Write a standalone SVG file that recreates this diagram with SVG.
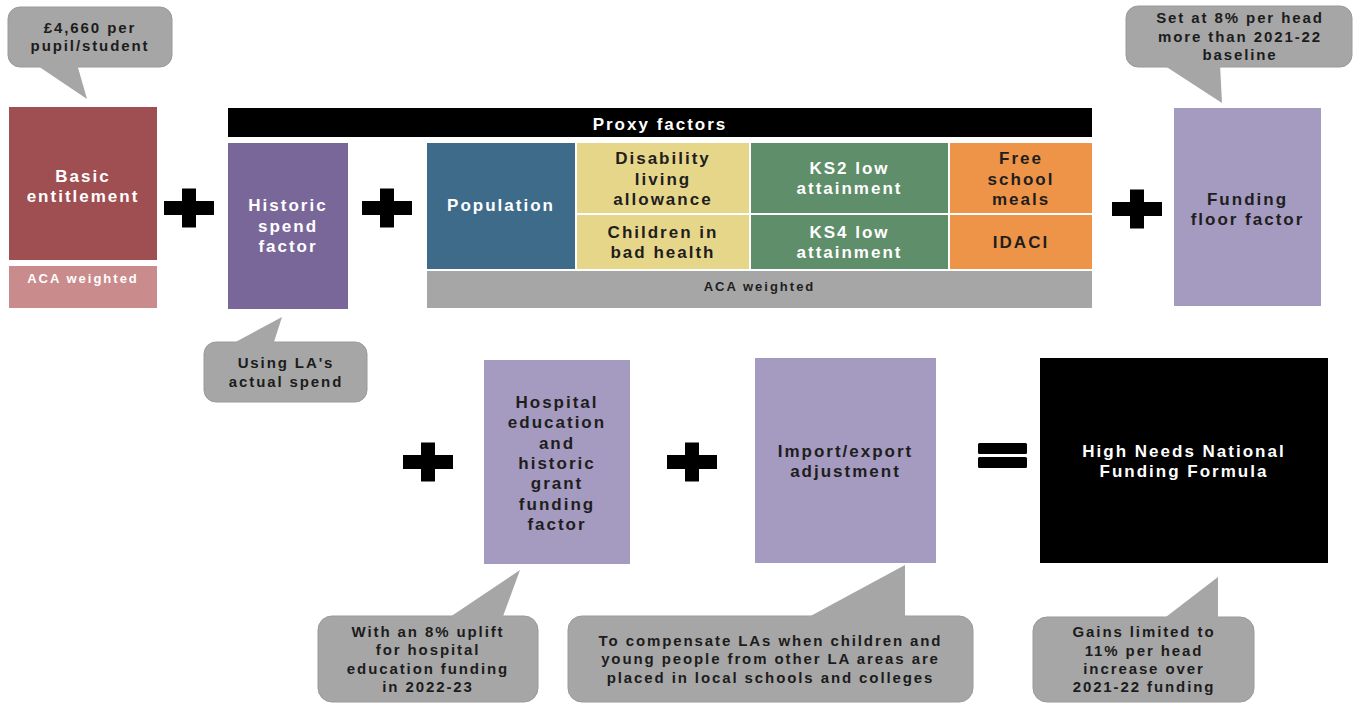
<svg xmlns="http://www.w3.org/2000/svg" xmlns:xlink="http://www.w3.org/1999/xlink" width="1359" height="703" viewBox="0 0 1359 703">
<defs>
<style>
text{font-family:"Liberation Sans",Arial,sans-serif;font-weight:bold;text-anchor:middle}
.n{font-size:17px;letter-spacing:2px}
.s{font-size:13px;letter-spacing:2px}
.c{font-size:15px;letter-spacing:1.9px;fill:#1c1c1c}
.w{fill:#ffffff}
.d{fill:#1e1e1e}
.bub{fill:#a6a6a6;stroke:#9a9a9a;stroke-width:1}
.tail{fill:#a6a6a6}
.op{fill:#000000}
</style>
<path id="plus" d="M-25,-7H-7V-19.5H7V-7H25V7H7V19.5H-7V7H-25Z"/>
</defs>
<rect width="1359" height="703" fill="#ffffff"/>

<g id="operators" class="op">
<use xlink:href="#plus" x="189" y="208"/>
<use xlink:href="#plus" x="387" y="208"/>
<use xlink:href="#plus" x="1137" y="209"/>
<use xlink:href="#plus" x="428" y="462"/>
<use xlink:href="#plus" x="692" y="462"/>
<rect x="978" y="443" width="49" height="11" rx="1.5"/>
<rect x="978" y="457" width="49" height="11" rx="1.5"/>
</g>

<g id="basic-entitlement">
<rect x="9" y="107" width="148" height="153" fill="#9f4f52"/>
<text class="n w" x="83" y="182">Basic</text>
<text class="n w" x="83" y="202">entitlement</text>
</g>
<g id="basic-aca">
<rect x="9" y="266" width="148" height="42" fill="#c98b8c"/>
<text class="s w" x="83" y="283">ACA weighted</text>
</g>

<g id="proxy-factors">
<rect x="228" y="108" width="864" height="29" fill="#000000"/>
<text class="n w" x="660" y="130">Proxy factors</text>
</g>

<g id="historic-spend">
<rect x="228" y="143" width="120" height="166" fill="#7a6799"/>
<text class="n w" x="288" y="211">Historic</text>
<text class="n w" x="288" y="232">spend</text>
<text class="n w" x="288" y="252">factor</text>
</g>

<g id="population">
<rect x="427" y="143" width="148" height="126" fill="#3f6b8b"/>
<text class="n w" x="501" y="211">Population</text>
</g>
<g id="disability">
<rect x="577" y="143" width="172" height="70" fill="#e6d689"/>
<text class="n d" x="663" y="164">Disability</text>
<text class="n d" x="663" y="185">living</text>
<text class="n d" x="663" y="205">allowance</text>
</g>
<g id="bad-health">
<rect x="577" y="215" width="172" height="54" fill="#e6d689"/>
<text class="n d" x="663" y="238">Children in</text>
<text class="n d" x="663" y="258">bad health</text>
</g>
<g id="ks2">
<rect x="751" y="143" width="197" height="70" fill="#5f8e6b"/>
<text class="n w" x="849.5" y="174">KS2 low</text>
<text class="n w" x="849.5" y="194">attainment</text>
</g>
<g id="ks4">
<rect x="751" y="215" width="197" height="54" fill="#5f8e6b"/>
<text class="n w" x="849.5" y="238">KS4 low</text>
<text class="n w" x="849.5" y="258">attainment</text>
</g>
<g id="fsm">
<rect x="950" y="143" width="142" height="70" fill="#ee9449"/>
<text class="n d" x="1021" y="164">Free</text>
<text class="n d" x="1021" y="185">school</text>
<text class="n d" x="1021" y="205">meals</text>
</g>
<g id="idaci">
<rect x="950" y="215" width="142" height="54" fill="#ee9449"/>
<text class="n d" x="1021" y="248">IDACI</text>
</g>
<g id="proxy-aca">
<rect x="427" y="271" width="665" height="37" fill="#a6a6a6"/>
<text class="s d" x="759.5" y="291">ACA weighted</text>
</g>

<g id="funding-floor">
<rect x="1174" y="108" width="147" height="198" fill="#a59abf"/>
<text class="n d" x="1247.5" y="205">Funding</text>
<text class="n d" x="1247.5" y="225">floor factor</text>
</g>

<g id="hospital">
<rect x="484" y="360" width="146" height="204" fill="#a59abf"/>
<text class="n d" x="557" y="408">Hospital</text>
<text class="n d" x="557" y="428">education</text>
<text class="n d" x="557" y="449">and</text>
<text class="n d" x="557" y="469">historic</text>
<text class="n d" x="557" y="489">grant</text>
<text class="n d" x="557" y="510">funding</text>
<text class="n d" x="557" y="530">factor</text>
</g>

<g id="import-export">
<rect x="755" y="358" width="181" height="205" fill="#a59abf"/>
<text class="n d" x="845.5" y="457">Import/export</text>
<text class="n d" x="845.5" y="477">adjustment</text>
</g>

<g id="hnnff">
<rect x="1040" y="358" width="288" height="205" fill="#000000"/>
<text class="n w" x="1184" y="457">High Needs National</text>
<text class="n w" x="1184" y="477">Funding Formula</text>
</g>

<g id="callout-basic">
<rect class="bub" x="8" y="7" width="164" height="60" rx="12"/>
<text class="c" x="90" y="33">£4,660 per</text>
<text class="c" x="90" y="51">pupil/student</text>
</g>

<g id="callout-floor">
<rect class="bub" x="1126" y="6" width="226" height="61" rx="12"/>
<text class="c" x="1240" y="23">Set at 8% per head</text>
<text class="c" x="1240" y="42">more than 2021-22</text>
<text class="c" x="1240" y="60">baseline</text>
</g>

<g id="callout-historic">
<rect class="bub" x="204" y="342" width="163" height="60" rx="12"/>
<text class="c" x="286" y="368">Using LA's</text>
<text class="c" x="286" y="387">actual spend</text>
</g>

<g id="callout-hospital">
<rect class="bub" x="318" y="616" width="220" height="86" rx="14"/>
<text class="c" x="428" y="637">With an 8% uplift</text>
<text class="c" x="428" y="655">for hospital</text>
<text class="c" x="428" y="674">education funding</text>
<text class="c" x="428" y="692">in 2022-23</text>
</g>

<g id="callout-import">
<rect class="bub" x="568" y="616" width="405" height="86" rx="14"/>
<text class="c" x="770.5" y="646">To compensate LAs when children and</text>
<text class="c" x="770.5" y="664">young people from other LA areas are</text>
<text class="c" x="770.5" y="683">placed in local schools and colleges</text>
</g>

<g id="callout-gains">
<rect class="bub" x="1033" y="617" width="221" height="85" rx="14"/>
<text class="c" x="1144" y="637">Gains limited to</text>
<text class="c" x="1144" y="656">11% per head</text>
<text class="c" x="1144" y="674">increase over</text>
<text class="c" x="1144" y="692">2021-22 funding</text>
</g>

<g id="connectors" class="tail">
<polygon points="35,64 77,64 87,99"/>
<polygon points="1162,64 1220,64 1222,103"/>
<polygon points="230,345 273,345 282,317"/>
<polygon points="447,619 502,619 520,570"/>
<polygon points="805,619 905,619 905,565"/>
<polygon points="1162,620 1218,620 1218,577"/>
</g>
</svg>
